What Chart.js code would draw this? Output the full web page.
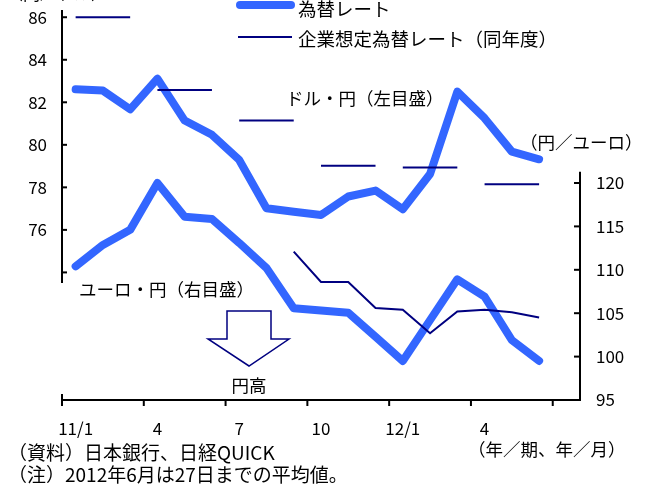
<!DOCTYPE html>
<html>
<head>
<meta charset="utf-8">
<script src="https://cdn.jsdelivr.net/npm/chart.js@4/dist/chart.umd.min.js"></script>
<style>
  html, body { margin: 0; padding: 0; background: #fff; }
  #wrap { width: 645px; height: 493px; position: relative; }
</style>
</head>
<body>
<div id="wrap"><canvas id="c" width="645" height="493"></canvas></div>
<script>
// Months, Jan 2011 to Jul 2012 (the last slot is left empty)
const months = ['2011/1','2011/2','2011/3','2011/4','2011/5','2011/6','2011/7','2011/8','2011/9','2011/10','2011/11','2011/12',
                '2012/1','2012/2','2012/3','2012/4','2012/5','2012/6','2012/7'];
// Labels written under the x axis (one per quarter)
const monthTickLabels = ['11/1','','','4','','','7','','','10','','','12/1','','','4','','',''];

// USD/JPY monthly average (left scale)
const usdJpy = [82.61, 82.55, 81.67, 83.11, 81.14, 80.47, 79.29, 77.02, 76.85, 76.70, 77.57, 77.85,
                76.97, 78.63, 82.50, 81.25, 79.68, 79.32, null];
// EUR/JPY monthly average (right scale)
const eurJpy = [110.4, 112.86, 114.6, 120.0, 116.1, 115.85, 113.1, 110.2, 105.56, 105.3, 105.06, 102.3,
                99.5, 104.2, 108.9, 106.9, 101.9, 99.5, null];
// Companies' assumed USD/JPY rate for the fiscal year, per survey quarter
const usdPlan = [86.0, 86.0, 86.0, 82.58, 82.58, 82.58, 81.14, 81.14, 81.14, 79.02, 79.02, 79.02,
                 78.93, 78.93, 78.93, 78.15, 78.15, 78.15, null];
// Companies' assumed EUR/JPY rate for the fiscal year
const eurPlan = [null, null, null, null, null, null, null, null, 112.1, 108.6, 108.6, 105.6,
                 105.4, 102.7, 105.2, 105.4, 105.1, 104.5, null];

// Axis tick values
const leftTicks = [74, 76, 78, 80, 82, 84, 86];
const leftTickLabels = [76, 78, 80, 82, 84, 86];
const rightTicks = [95, 100, 105, 110, 115, 120];

const FONT = '"Noto Sans CJK JP", "Noto Sans", sans-serif';
const BLUE = '#3366FF';
const NAVY = '#000080';

Chart.defaults.font.family = FONT;
Chart.defaults.font.size = 17;
Chart.defaults.color = '#000';

// keep the plot box fixed: no extra room reserved for overhanging labels
function noOverhang(s) {
  s.paddingTop = 0; s.paddingBottom = 0; s.paddingLeft = 0; s.paddingRight = 0;
}

// Axis lines with inward ticks, drawn against the chart's own scales
const axisPlugin = {
  id: 'axisLines',
  afterDraw(chart) {
    const { ctx, chartArea, scales: { x, y, y1 } } = chart;
    ctx.save();
    ctx.strokeStyle = '#000';
    ctx.lineWidth = 2;
    const seg = (x0, y0, x1, y2) => { ctx.beginPath(); ctx.moveTo(x0, y0); ctx.lineTo(x1, y2); ctx.stroke(); };

    // left scale
    const lx = chartArea.left;
    seg(lx, chartArea.top, lx, y.getPixelForValue(73.5));
    leftTicks.forEach(v => { const p = y.getPixelForValue(v); seg(lx, p, lx + 5, p); });

    // right scale
    const rx = chartArea.right;
    seg(rx, y1.getPixelForValue(121.3), rx, chartArea.bottom + 1);
    rightTicks.forEach(v => { const p = y1.getPixelForValue(v); seg(rx, p, rx - 6, p); });

    // time axis
    const by = chartArea.bottom;
    seg(chartArea.left - 1, by, chartArea.right + 1, by);
    for (let i = 0; i < months.length; i += 3) {
      const p = x.getPixelForValue(i - 0.5);
      seg(p, i === 0 ? by - 6 : by, p, by + 6);
    }
    ctx.restore();
  }
};

// Legend, captions, arrow and source notes
const notesPlugin = {
  id: 'notes',
  afterDraw(chart) {
    const { ctx } = chart;
    ctx.save();
    ctx.textBaseline = 'middle';
    ctx.fillStyle = '#000';

    const text = (s, px, py, size, align) => {
      ctx.font = size + 'px ' + FONT;
      ctx.textAlign = align || 'left';
      ctx.fillText(s, px, py);
    };

    // legend
    ctx.lineCap = 'round';
    ctx.strokeStyle = BLUE; ctx.lineWidth = 8;
    ctx.beginPath(); ctx.moveTo(240, 5); ctx.lineTo(291, 5); ctx.stroke();
    ctx.lineCap = 'butt';
    ctx.strokeStyle = NAVY; ctx.lineWidth = 2;
    ctx.beginPath(); ctx.moveTo(238, 37); ctx.lineTo(292, 37); ctx.stroke();
    text('為替レート', 298, 9, 18.5);
    text('企業想定為替レート（同年度）', 298, 39, 18.5);

    // unit captions and series captions
    text('（円／ドル）', 6, -6, 17);
    text('ドル・円（左目盛）', 286, 98, 17.5);
    text('（円／ユーロ）', 520, 142, 17.5);
    text('ユーロ・円（右目盛）', 79, 289, 17.5);
    text('円高', 249, 385, 17.5, 'center');
    text('（年／期、年／月）', 468, 449, 17.5);

    // arrow pointing down (yen appreciation)
    ctx.strokeStyle = NAVY; ctx.lineWidth = 1.5; ctx.lineJoin = 'miter';
    ctx.fillStyle = '#fff';
    ctx.beginPath();
    ctx.moveTo(227, 311); ctx.lineTo(271, 311); ctx.lineTo(271, 339); ctx.lineTo(289, 339);
    ctx.lineTo(249, 366); ctx.lineTo(208, 339); ctx.lineTo(227, 339); ctx.closePath();
    ctx.fill(); ctx.stroke();

    // source and note
    ctx.fillStyle = '#000';
    text('（資料）日本銀行、日経QUICK', 8, 453, 19);
    text('（注）2012年6月は27日までの平均値。', 8, 475, 19);
    ctx.restore();
  }
};

new Chart(document.getElementById('c'), {
  type: 'line',
  data: {
    labels: months,
    datasets: [
      { label: 'ドル・円', data: usdJpy, yAxisID: 'y', borderColor: BLUE, borderWidth: 8,
        borderCapStyle: 'round', borderJoinStyle: 'round', order: 1, tension: 0 },
      { label: 'ユーロ・円', data: eurJpy, yAxisID: 'y1', borderColor: BLUE, borderWidth: 8,
        borderCapStyle: 'round', borderJoinStyle: 'round', order: 1, tension: 0 },
      { label: '企業想定（ドル・円）', data: usdPlan, yAxisID: 'y', borderColor: NAVY, borderWidth: 2,
        order: 0, tension: 0,
        // each survey value is a flat quarter; no joins between quarters
        segment: { borderColor: c => c.p0.parsed.y !== c.p1.parsed.y ? 'rgba(0,0,0,0)' : undefined } },
      { label: '企業想定（ユーロ・円）', data: eurPlan, yAxisID: 'y1', borderColor: NAVY, borderWidth: 2,
        order: 0, tension: 0 }
    ]
  },
  options: {
    responsive: false,
    animation: false,
    events: [],
    layout: { padding: { top: 10, left: 0, right: 0, bottom: 0 } },
    elements: { point: { radius: 0 } },
    plugins: { legend: { display: false }, tooltip: { enabled: false } },
    scales: {
      x: {
        type: 'category',
        offset: true,
        grid: { display: false, drawTicks: false },
        border: { display: false },
        ticks: { autoSkip: false, maxRotation: 0, minRotation: 0, padding: 18, font: { size: 17 },
                 callback: (v, i) => monthTickLabels[i] },
        afterFit(s) { s.height = 93; noOverhang(s); }
      },
      y: {
        position: 'left',
        min: 68, max: 86.34,
        grid: { display: false, drawTicks: false },
        border: { display: false },
        ticks: { stepSize: 2, includeBounds: false, padding: 15, font: { size: 17 },
                 callback: v => leftTickLabels.includes(v) ? String(v) : '' },
        afterFit(s) { s.width = 62; noOverhang(s); }
      },
      y1: {
        position: 'right',
        min: 95, max: 139.93,
        grid: { display: false, drawTicks: false },
        border: { display: false },
        ticks: { stepSize: 5, includeBounds: false, padding: 16, font: { size: 17 },
                 callback: v => rightTicks.includes(v) ? String(v) : '' },
        afterFit(s) { s.width = 65; noOverhang(s); }
      }
    }
  },
  plugins: [axisPlugin, notesPlugin]
});
</script>
</body>
</html>
